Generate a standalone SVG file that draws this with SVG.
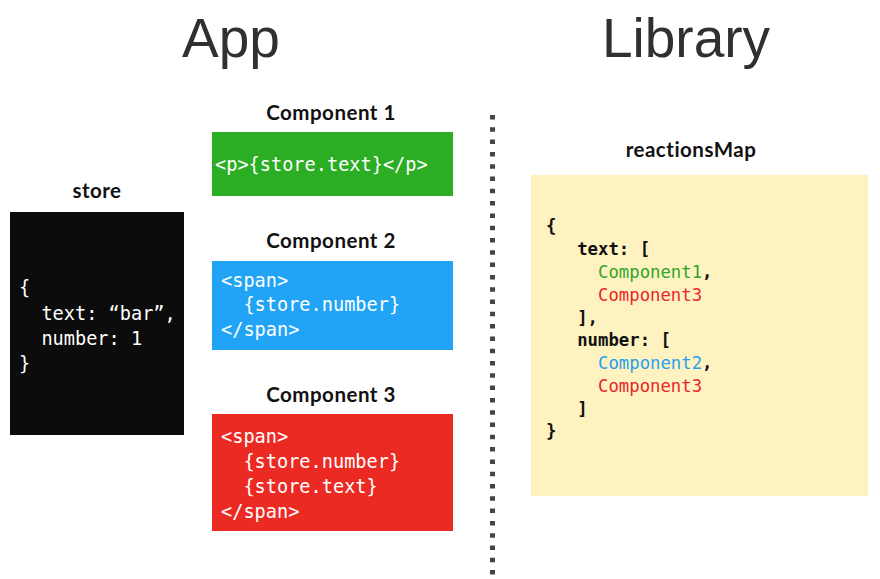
<svg xmlns="http://www.w3.org/2000/svg" width="880" height="579" viewBox="0 0 880 579">
<style>
.title{font-family:"Liberation Sans",Arial,sans-serif;font-size:55px;fill:#303030;text-anchor:middle}
.hdr{font-family:Lato,"Noto Sans",sans-serif;font-weight:bold;font-size:20.5px;letter-spacing:0.5px;fill:#111;text-anchor:middle}
.code{font-family:"DejaVu Sans Mono","Liberation Mono",monospace;font-size:18.6px;fill:#fff;white-space:pre}
.map{font-family:"DejaVu Sans Mono","Liberation Mono",monospace;font-size:17.3px;fill:#111;font-weight:bold;white-space:pre}
.g{fill:#2ea52a}.r{fill:#e8262b}.b{fill:#26a0f0}
</style>
<rect width="880" height="579" fill="#fff"/>
<text class="title" x="231" y="57">App</text>
<text class="title" x="686" y="57">Library</text>

<g id="store">
<text class="hdr" x="97" y="198">store</text>
<rect x="10" y="212" width="174" height="223" fill="#0c0c0c"/>
<text class="code" x="19" y="294">{</text>
<text class="code" x="19" y="320">  text: “bar”,</text>
<text class="code" x="19" y="345">  number: 1</text>
<text class="code" x="19" y="370">}</text>
</g>

<g id="component1">
<text class="hdr" x="331" y="120">Component 1</text>
<rect x="212" y="132" width="241" height="64" fill="#2bad24"/>
<text class="code" x="215" y="171">&lt;p&gt;{store.text}&lt;/p&gt;</text>
</g>

<g id="component2">
<text class="hdr" x="331" y="248">Component 2</text>
<rect x="212" y="261" width="241" height="89" fill="#22a4f6"/>
<text class="code" x="221" y="287">&lt;span&gt;</text>
<text class="code" x="221" y="311">  {store.number}</text>
<text class="code" x="221" y="336">&lt;/span&gt;</text>
</g>

<g id="component3">
<text class="hdr" x="331" y="402">Component 3</text>
<rect x="212" y="414" width="241" height="117" fill="#ec2a24"/>
<text class="code" x="221" y="443">&lt;span&gt;</text>
<text class="code" x="221" y="468">  {store.number}</text>
<text class="code" x="221" y="493">  {store.text}</text>
<text class="code" x="221" y="518">&lt;/span&gt;</text>
</g>

<g id="divider">
<line x1="492.5" y1="115" x2="492.5" y2="575" stroke="#444" stroke-width="5" stroke-dasharray="4.5 7.8"/>
</g>

<g id="reactionsMap">
<text class="hdr" x="691" y="157">reactionsMap</text>
<rect x="531" y="175" width="337" height="321" fill="#fef3c0"/>
<text class="map" x="546" y="232">{</text>
<text class="map" x="546" y="255">   text: [</text>
<text class="map" x="546" y="278">     <tspan class="g" font-weight="normal">Component1</tspan>,</text>
<text class="map" x="546" y="301">     <tspan class="r" font-weight="normal">Component3</tspan></text>
<text class="map" x="546" y="324">   ],</text>
<text class="map" x="546" y="346">   number: [</text>
<text class="map" x="546" y="369">     <tspan class="b" font-weight="normal">Component2</tspan>,</text>
<text class="map" x="546" y="392">     <tspan class="r" font-weight="normal">Component3</tspan></text>
<text class="map" x="546" y="415">   ]</text>
<text class="map" x="546" y="437">}</text>
</g>
</svg>
